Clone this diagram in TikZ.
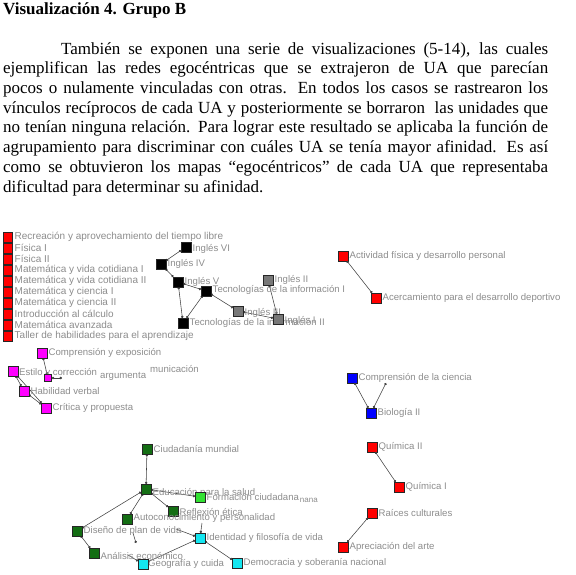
\documentclass[tikz,border=0pt]{standalone}
\usepackage{fontspec}
\setmainfont{Liberation Serif}
\newfontfamily\labfont{Liberation Sans}
\usetikzlibrary{arrows.meta,backgrounds}
\definecolor{labgray}{RGB}{140,140,140}
\definecolor{nred}{RGB}{255,0,0}
\definecolor{ngreen}{RGB}{20,110,20}
\definecolor{nlgreen}{RGB}{50,225,50}
\definecolor{ncyan}{RGB}{20,230,240}
\definecolor{nblue}{RGB}{0,0,255}
\definecolor{nmag}{RGB}{255,0,255}
\definecolor{ngray}{RGB}{120,120,120}
\tikzset{
  sq/.style={draw=black!85, line width=0.5pt, minimum size=9.5pt, inner sep=0pt},
  lab/.style={anchor=west, text=labgray, font=\labfont\fontsize{9.6}{10}\selectfont, inner sep=0pt},
  edge/.style={draw=black!75, line width=0.55pt, {Circle[length=2.4pt]}-{Circle[length=2.4pt]}},
  edgeto/.style={draw=black!75, line width=0.55pt, -{Circle[length=2.4pt]}},
  txt/.style={anchor=base west, inner sep=0pt, font=\fontsize{17}{20}\selectfont},
}
\begin{document}
\begin{tikzpicture}[x=1pt,y=-1pt]
\useasboundingbox (0,0) rectangle (576,574);
% ---------- text ----------
\node[txt, font=\bfseries\fontsize{17}{20}\selectfont] (title) at (3,14) {Visualización 4. Grupo B};
\node[txt] (l1) at (61,54) {\makebox[487pt][s]{También se exponen una serie de visualizaciones (5-14), las cuales}};
\node[txt] (l2) at (3,73.5) {\makebox[545pt][s]{ejemplifican las redes egocéntricas que se extrajeron de UA que parecían}};
\node[txt] (l3) at (3,93) {\makebox[545pt][s]{pocos o nulamente vinculadas con otras. En todos los casos se rastrearon los}};
\node[txt] (l4) at (3,113) {\makebox[545pt][s]{vínculos recíprocos de cada UA y posteriormente se borraron\ \ las unidades que}};
\node[txt] (l5) at (3,132.5) {\makebox[545pt][s]{no tenían ninguna relación. Para lograr este resultado se aplicaba la función de}};
\node[txt] (l6) at (3,152) {\makebox[545pt][s]{agrupamiento para discriminar con cuáles UA se tenía mayor afinidad. Es así}};
\node[txt] (l7) at (3,172) {\makebox[545pt][s]{como se obtuvieron los mapas “egocéntricos” de cada UA que representaba}};
\node[txt] (l8) at (3,192) {dificultad para determinar su afinidad.};
% ---------- red column ----------
\foreach \t [count=\i from 0] in {Recreación y aprovechamiento del tiempo libre,Física I,Física II,Matemática y vida cotidiana I,Matemática y vida cotidiana II,Matemática y ciencia I,Matemática y ciencia II,Introducción al cálculo,Matemática avanzada,Taller de habilidades para el aprendizaje}{
  \node[sq, fill=nred] (r\i) at (7.5,{237+11*\i}) {};
  \node[lab, font=\labfont\fontsize{10}{10}\selectfont] (r\i L) at ([xshift=2pt]r\i.east) {\t};
}
% ---------- black / grey cluster ----------
\node[sq, fill=black] (i6) at (186,247) {};
\node[lab] (i6L) at ([xshift=1.5pt,yshift=-2pt]i6.east) {Inglés VI};
\node[sq, fill=black] (i4) at (161,264) {};
\node[lab] (i4L) at ([xshift=1.5pt]i4.east) {Inglés IV};
\node[sq, fill=black] (i5) at (178,282) {};
\node[lab] (i5L) at ([xshift=1.5pt]i5.east) {Inglés V};
\node[sq, fill=black] (t2) at (183,323) {};
\node[lab] (t2L) at ([xshift=1.5pt]t2.east) {Tecnologías de la información II};
\node[sq, fill=black] (t1) at (206,291) {};
\node[lab] (t1L) at ([xshift=1.5pt,yshift=1pt]t1.east) {Tecnologías de la información I};
\node[sq, fill=ngray] (i2) at (268,280) {};
\node[lab] (i2L) at ([xshift=1.5pt]i2.east) {Inglés II};
\node[sq, fill=ngray] (i3) at (238,311) {};
\node[lab] (i3L) at ([xshift=1.5pt,yshift=-1.5pt]i3.east) {Inglés III};
\node[sq, fill=ngray] (i1) at (278,319) {};
\node[lab] (i1L) at ([xshift=1.5pt,yshift=-2pt]i1.east) {Inglés I};
\begin{scope}[on background layer]
\draw[edge] (i6) -- (i4);
\draw[edge] (i4) -- (i5);
\draw[edge] (i5) -- (t2);
\draw[edge] (i5) -- (t1);
\draw[edge] (t1) -- (t2);
\draw[edge] (t1) -- (i3);
\draw[edge] (i2) -- (i1);
\draw[edge] (i3) -- (i1);
\end{scope}
% ---------- magenta cluster ----------
\node[sq, fill=nmag] (ce) at (42,353) {};
\node[lab] (ceL) at ([xshift=1.5pt]ce.east) {Comprensión y exposición};
\node[sq, fill=nmag] (ec) at (13,371) {};
\node[lab] (ecL) at ([xshift=1pt,yshift=-1.5pt]ec.east) {Estilo y corrección};
\node[sq, fill=nmag, minimum size=7pt] (ar) at (48,378) {};
\node[lab] (arL) at (100,376) {argumenta};
\node[lab] (coL) at (150,369) {municación};
\node[sq, fill=nmag] (hv) at (24,391) {};
\node[lab] (hvL) at ([xshift=1.5pt]hv.east) {Habilidad verbal};
\node[sq, fill=nmag] (cp) at (46,408) {};
\node[lab] (cpL) at ([xshift=1.5pt]cp.east) {Crítica y propuesta};
\coordinate (arE) at (62,378);
\begin{scope}[on background layer]
\draw[edge] (ec) -- (hv);
\draw[edge] (ec) -- (cp);
\draw[edge] (hv) -- (cp);
\draw[edge] (ce) -- (ar);
\draw[edge] (ar) -- (arE);
\end{scope}
% ---------- red pair (sport) ----------
\node[sq, fill=nred] (afd) at (343,256) {};
\node[lab] (afdL) at ([xshift=1.5pt]afd.east) {Actividad física y desarrollo personal};
\node[sq, fill=nred] (add) at (376,298) {};
\node[lab] (addL) at ([xshift=1.5pt]add.east) {Acercamiento para el desarrollo deportivo};
\draw[edge] (afd) -- (add);
% ---------- blue pair ----------
\node[sq, fill=nblue] (cc) at (352,378) {};
\node[lab] (ccL) at ([xshift=1.5pt]cc.east) {Comprensión de la ciencia};
\node[sq, fill=nblue] (bio) at (371,413) {};
\node[lab] (bioL) at ([xshift=1.5pt]bio.east) {Biología II};
\coordinate (ccE) at (386,383);
\draw[edge] (cc) -- (bio);
\draw[edge] (bio) -- (ccE);
% ---------- green cluster ----------
\node[sq, fill=ngreen] (cm) at (147,449) {};
\node[lab] (cmL) at ([xshift=1.5pt]cm.east) {Ciudadanía mundial};
\node[sq, fill=ngreen] (eps) at (146,489) {};
\node[lab] (epsL) at ([xshift=1.5pt,yshift=-4pt]eps.east) {Educación para la salud};
\node[sq, fill=nlgreen] (fc) at (200,497) {};
\node[lab] (fcL) at ([xshift=1.5pt]fc.east) {Formación ciudadana};
\node[lab, font=\labfont\fontsize{8}{8}\selectfont] (naL) at ([xshift=0.5pt,yshift=-3pt]fcL.east) {nana};
\node[sq, fill=ngreen] (re) at (173,511) {};
\node[lab] (reL) at ([xshift=1.5pt,yshift=-1.5pt]re.east) {Reflexión ética};
\node[sq, fill=ngreen] (ap) at (127,519) {};
\node[lab] (apL) at ([xshift=1.5pt,yshift=0.5pt]ap.east) {Autoconocimiento y personalidad};
\node[sq, fill=ngreen] (dpv) at (77,531) {};
\node[lab] (dpvL) at ([xshift=1.5pt]dpv.east) {Diseño de plan de vida};
\node[sq, fill=ngreen] (ae) at (94,553) {};
\node[lab] (aeL) at ([xshift=1.5pt,yshift=-3pt]ae.east) {Análisis económico};
\node[sq, fill=ncyan] (ifv) at (200,538) {};
\node[lab] (ifvL) at ([xshift=1.5pt]ifv.east) {Identidad y filosofía de vida};
\node[lab] (gcL) at (148,564) {Geografía y cuida};
\node[sq, fill=ncyan] (gc) at (143,564) {};
\node[sq, fill=ncyan] (dsn) at (237,563) {};
\node[lab] (dsnL) at ([xshift=1.5pt]dsn.east) {Democracia y soberanía nacional};
\coordinate (fcA) at (202,523);
\coordinate (dpvA) at (176,529);
\coordinate (apA) at (133,533);
\coordinate (aeA) at (128,555);
\begin{scope}[on background layer]
\draw[edge] (cm) -- (eps);
\draw[edge] (eps) -- (fc);
\draw[edge] (eps) -- (re);
\draw[edge] (eps) -- (ap);
\draw[edge] (eps) -- (dpv);
\draw[edge] (dpv) -- (ae);
\draw[edge] (ifv) -- (dsn);
\draw[edge] (ifv) -- (gc);
\draw[edgeto] (fcA) -- (ifv);
\draw[edgeto] (dpvA) -- (ifv);
\draw[edgeto] (apA) -- ++(3,10);
\draw[edgeto] (aeA) -- (gc);
\end{scope}
% ---------- red pairs bottom right ----------
\node[sq, fill=nred] (q2) at (372,447) {};
\node[lab] (q2L) at ([xshift=1.5pt]q2.east) {Química II};
\node[sq, fill=nred] (q1) at (399,487) {};
\node[lab] (q1L) at ([xshift=1.5pt]q1.east) {Química I};
\draw[edge] (q2) -- (q1);
\node[sq, fill=nred] (rc) at (372,513) {};
\node[lab] (rcL) at ([xshift=1.5pt]rc.east) {Raíces culturales};
\node[sq, fill=nred] (aa) at (343,547) {};
\node[lab] (aaL) at ([xshift=1.5pt]aa.east) {Apreciación del arte};
\draw[edge] (rc) -- (aa);
\end{tikzpicture}
\end{document}
